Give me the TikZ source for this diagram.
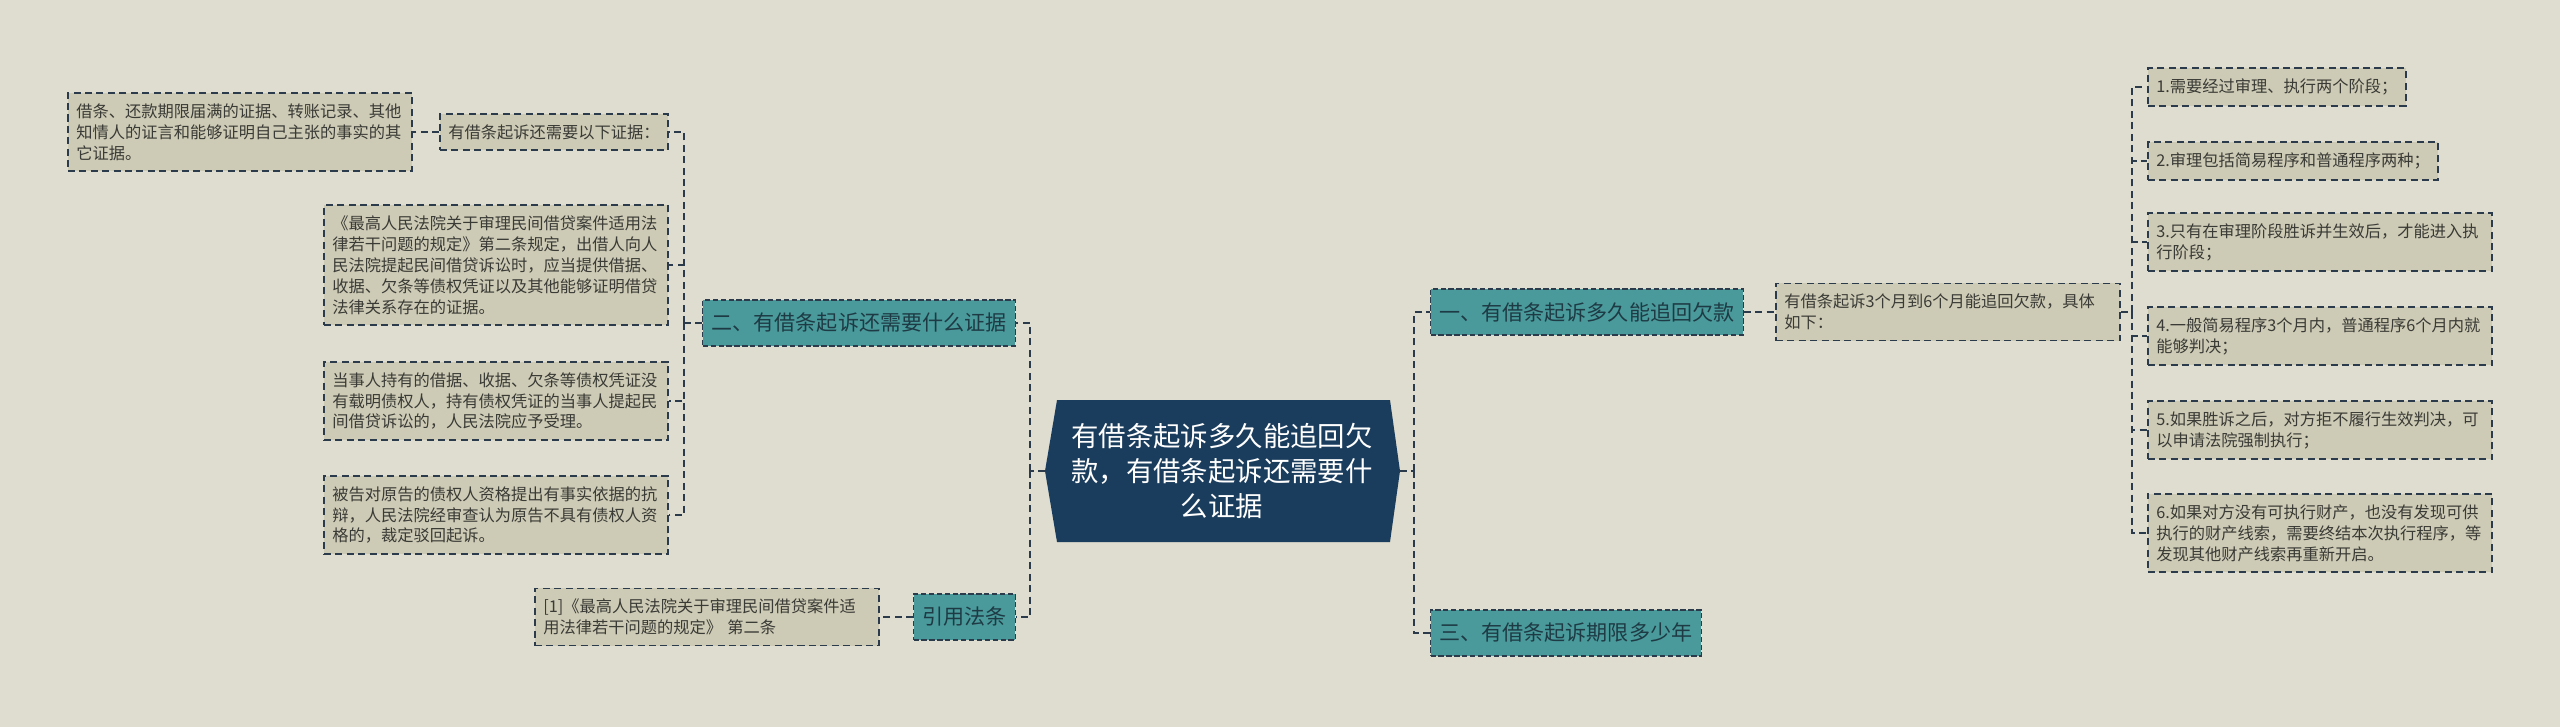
\documentclass[tikz,border=0pt]{standalone}
\usepackage{fontspec}
\setmainfont{Noto Sans CJK SC}
\definecolor{bgcol}{HTML}{DFDDCF}
\definecolor{boxcol}{HTML}{CDCBB5}
\definecolor{tealcol}{HTML}{4A9A9B}
\definecolor{rootcol}{HTML}{1B3D5D}
\definecolor{linecol}{HTML}{2B3B4B}
\definecolor{txtcol}{HTML}{3A3A36}
\definecolor{tealtxt}{HTML}{1E3B45}

\begin{document}
\begin{tikzpicture}
[x=0.02cm,y=-0.02cm,
link/.style={draw=linecol,line width=1pt,dash pattern=on 4pt off 2.5pt},
leaf/.style={draw=linecol,line width=1pt,dash pattern=on 4pt off 2.5pt,fill=boxcol,
	text=txtcol,align=left,inner xsep=4.8pt,inner ysep=6pt,
	font=\fontsize{9.25}{11.9}\selectfont},
wide/.style={leaf,text width=6.55cm},
topic/.style={draw=linecol,line width=0.6pt,dash pattern=on 3pt off 1.5pt,fill=tealcol,
	text=tealtxt,inner xsep=5pt,minimum height=0.92cm,font=\fontsize{12}{14}\selectfont}]

\fill[bgcol] (0,0) rectangle (2560,727);

\fill[rootcol] (1045,471) -- (1057,400) -- (1390,400) -- (1400,471) -- (1390,542) -- (1057,542) -- cycle;
\node[text=white,align=center,font=\fontsize{15.6}{19.8}\selectfont] (root) at (1222,471)
{有借条起诉多久能追回欠\\款，有借条起诉还需要什\\么证据};
\coordinate (rootL) at (1045,471);
\coordinate (rootR) at (1400,471);

\node[topic,anchor=west] (yi) at (1430,312) {一、有借条起诉多久能追回欠款};
\node[topic,anchor=west] (san) at (1430,633) {三、有借条起诉期限多少年};
\node[wide,anchor=west] (ju) at (1775,312) {有借条起诉3个月到6个月能追回欠款，具体\\如下：};

\node[leaf,anchor=west] (s1) at (2147,87) {1.需要经过审理、执行两个阶段；};
\node[leaf,anchor=west] (s2) at (2147,161) {2.审理包括简易程序和普通程序两种；};
\node[wide,anchor=west] (s3) at (2147,242) {3.只有在审理阶段胜诉并生效后，才能进入执\\行阶段；};
\node[wide,anchor=west] (s4) at (2147,336) {4.一般简易程序3个月内，普通程序6个月内就\\能够判决；};
\node[wide,anchor=west] (s5) at (2147,430) {5.如果胜诉之后，对方拒不履行生效判决，可\\以申请法院强制执行；};
\node[wide,anchor=west] (s6) at (2147,533) {6.如果对方没有可执行财产，也没有发现可供\\执行的财产线索，需要终结本次执行程序，等\\发现其他财产线索再重新开启。};

\node[topic,anchor=east] (er) at (1016,323) {二、有借条起诉还需要什么证据};
\node[topic,anchor=east] (law) at (1016,617) {引用法条};
\node[wide,anchor=east] (ref) at (880,617) {[1]《最高人民法院关于审理民间借贷案件适\\用法律若干问题的规定》 第二条};
\node[leaf,anchor=east] (ev0) at (669,132) {有借条起诉还需要以下证据：};
\node[wide,anchor=east] (ev00) at (413,132) {借条、还款期限届满的证据、转账记录、其他\\知情人的证言和能够证明自己主张的事实的其\\它证据。};
\node[wide,anchor=east] (ev1) at (669,265) {《最高人民法院关于审理民间借贷案件适用法\\律若干问题的规定》第二条规定，出借人向人\\民法院提起民间借贷诉讼时，应当提供借据、\\收据、欠条等债权凭证以及其他能够证明借贷\\法律关系存在的证据。};
\node[wide,anchor=east] (ev2) at (669,401) {当事人持有的借据、收据、欠条等债权凭证没\\有载明债权人，持有债权凭证的当事人提起民\\间借贷诉讼的，人民法院应予受理。};
\node[wide,anchor=east] (ev3) at (669,515) {被告对原告的债权人资格提出有事实依据的抗\\辩，人民法院经审查认为原告不具有债权人资\\格的，裁定驳回起诉。};

\coordinate (lt) at (1030,471);
\coordinate (rt) at (1414,471);
\coordinate (et) at (684,323);
\coordinate (st) at (2132,312);
\draw[link] (rootL) -- (lt) (rootR) -- (rt);
\foreach \n in {er,law} \draw[link] (lt) |- (\n.east);
\foreach \n in {yi,san} \draw[link] (rt) |- (\n.west);
\draw[link] (er.west) -- (et);
\foreach \n in {ev0,ev1,ev2,ev3} \draw[link] (et) |- (\n.east);
\draw[link] (ev0.west) -- (ev00.east);
\draw[link] (law.west) -- (ref.east);
\draw[link] (yi.east) -- (ju.west);
\draw[link] (ju.east) -- (st);
\foreach \n in {1,...,6} \draw[link] (st) |- (s\n.west);
\end{tikzpicture}
\end{document}
